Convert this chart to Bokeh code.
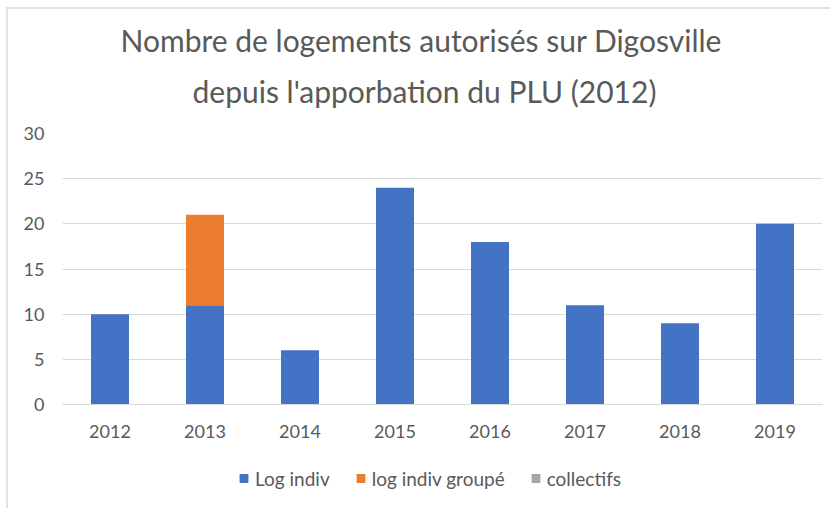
from bokeh.plotting import figure
from bokeh.layouts import column
from bokeh.models import Title, Legend, LegendItem, FactorRange, Range1d, FixedTicker
from bokeh.embed import file_html
from bokeh.resources import INLINE

years = ["2012", "2013", "2014", "2015", "2016", "2017", "2018", "2019"]
log_indiv = [10, 11, 6, 24, 18, 11, 9, 20]
log_indiv_groupe = [0, 10, 0, 0, 0, 0, 0, 0]
collectifs = [0, 0, 0, 0, 0, 0, 0, 0]
series = ["Log indiv", "log indiv groupé", "collectifs"]
colors = ["#4472C4", "#ED7D31", "#A5A5A5"]
y_ticks = [0, 5, 10, 15, 20, 25, 30]

FONT = "Lato"
GRAY = "#595959"
BORDER = "#E2E2E2"

data = {"years": years, "Log indiv": log_indiv,
        "log indiv groupé": log_indiv_groupe, "collectifs": collectifs}

p = figure(width=830, height=448, x_range=FactorRange(*years, range_padding=0),
           y_range=Range1d(0, 30), output_backend="svg", toolbar_location=None,
           min_border_left=62, min_border_right=8, min_border_top=133,
           min_border_bottom=44)
p.background_fill_color = None
p.border_fill_color = None
p.styles = {"background": "white",
            "box-shadow": f"inset 6px 7px 0 0 white, inset 8px 9px 0 0 {BORDER}"}

renderers = p.vbar_stack(series, x="years", width=0.4, color=colors, source=data,
                         line_color=None)

p.outline_line_color = None
p.xgrid.grid_line_color = None
p.ygrid.grid_line_color = "#D9D9D9"
p.ygrid.grid_line_width = 1

p.yaxis.ticker = FixedTicker(ticks=y_ticks)
for ax in (p.xaxis, p.yaxis):
    ax.major_tick_line_color = None
    ax.minor_tick_line_color = None
    ax.major_label_text_font = FONT
    ax.major_label_text_font_size = "18px"
    ax.major_label_text_color = GRAY
p.yaxis.axis_line_color = None
p.yaxis.major_label_standoff = 12
p.xaxis.axis_line_color = "#D9D9D9"
p.xaxis.major_label_standoff = 14

spacer = Title(text=" ", text_font_size="12px", standoff=0)
t2 = Title(text="depuis l'apporbation du PLU (2012)", align="left", offset=130,
           text_font=FONT, text_font_size="30px", text_font_style="normal",
           text_color=GRAY, standoff=17)
t1 = Title(text="Nombre de logements autorisés sur Digosville", align="left", offset=58,
           text_font=FONT, text_font_size="30px", text_font_style="normal",
           text_color=GRAY, standoff=10)
p.add_layout(spacer, "above")
p.add_layout(t2, "above")
p.add_layout(t1, "above")

# legend strip below the chart: same stacked series, kept out of its view
q = figure(width=830, height=60, x_range=FactorRange(*years, range_padding=0),
           y_range=Range1d(50, 60), x_axis_type=None, y_axis_type=None,
           output_backend="svg", toolbar_location=None, min_border_left=62,
           min_border_right=8, min_border_top=0, min_border_bottom=0)
q.background_fill_color = None
q.border_fill_color = None
q.outline_line_color = None
q.grid.visible = False
q.styles = {"background": "white",
            "box-shadow": f"inset 6px 0 0 0 white, inset 8px 0 0 0 {BORDER}"}
leg_renderers = q.vbar_stack(series, x="years", width=0.4, color=colors, source=data,
                             line_color=None)

legend = Legend(items=[LegendItem(label=s, renderers=[r]) for s, r in zip(series, leg_renderers)],
                orientation="horizontal", location="center_left",
                label_text_font=FONT, label_text_font_size="19px",
                label_text_color=GRAY, glyph_width=11, glyph_height=11,
                spacing=25, label_standoff=6, border_line_color=None,
                background_fill_alpha=0, padding=0, margin=176)
q.add_layout(legend, "center")

layout = column(p, q, spacing=0)
open("out.html", "w").write(file_html(layout, INLINE))
